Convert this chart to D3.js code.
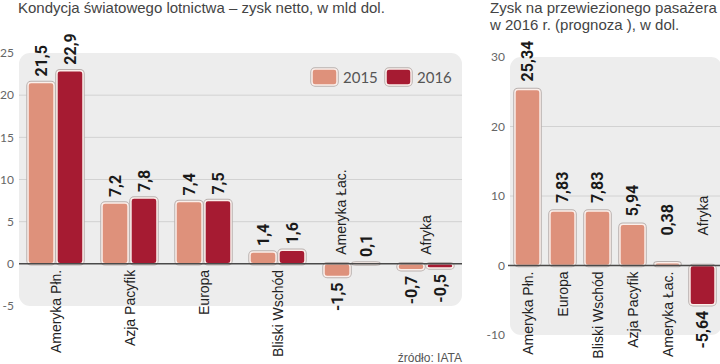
<!DOCTYPE html>
<html>
<head>
<meta charset="utf-8">
<script src="https://cdn.jsdelivr.net/npm/d3@7"></script>
<style>
  body { margin: 0; background: #fff; }
  svg { display: block; }
  .title { font-family: "Liberation Sans Narrow", "Liberation Sans", sans-serif; font-size: 15px; fill: #444; }
  .tick { font-family: Lato, sans-serif; font-size: 12px; fill: #666; }
  .cat { font-family: "Liberation Sans", Arial, sans-serif; font-size: 14px; fill: #222; }
  .val { font-family: Roboto, sans-serif; font-weight: 700; font-size: 16px; fill: #1a1a1a; }
  .legend { font-family: Lato, sans-serif; font-size: 15px; fill: #555; }
  .src { font-family: "Liberation Sans Narrow", sans-serif; font-size: 12px; fill: #555; }
</style>
</head>
<body>
<svg id="chart"></svg>
<script>
var width = 720, height = 364;

// left chart: net profit by region, bln USD
var regions = ["Ameryka Płn.", "Azja Pacyfik", "Europa", "Bliski Wschód", "Ameryka Łac.", "Afryka"];
var years = ["2015", "2016"];
var profit2015 = [21.5, 7.2, 7.4, 1.4, -1.5, -0.7];
var profit2016 = [22.9, 7.8, 7.5, 1.6, 0.1, -0.5];
var leftTicks = [-5, 0, 5, 10, 15, 20, 25];

// right chart: profit per passenger 2016
var paxRegions = ["Ameryka Płn.", "Europa", "Bliski Wschód", "Azja Pacyfik", "Ameryka Łac.", "Afryka"];
var paxProfit = [25.34, 7.83, 7.83, 5.94, 0.38, -5.64];
var rightTicks = [-10, 0, 10, 20, 30];

var colors = {"2015": "#de917b", "2016": "#a61b32"};
var fmt = function (v) { return String(v).replace(".", ","); };

var svg = d3.select("#chart").attr("width", width).attr("height", height);

function drawBar(g, x, y, w, h, color) {
	g.append("rect")
		.attr("x", x).attr("y", y).attr("width", w).attr("height", Math.max(h, 1))
		.attr("rx", 3)
		.attr("fill", "none").attr("stroke", "#b9b1af").attr("stroke-width", 3.5);
	g.append("rect")
		.attr("x", x).attr("y", y).attr("width", w).attr("height", Math.max(h, 1))
		.attr("rx", 3)
		.attr("fill", color).attr("stroke", "#fbefeb").attr("stroke-width", 1.5);
}

// rotated text helper, reads bottom-to-top
function vtext(g, cls, x, y, anchor, txt) {
	g.append("text")
		.attr("class", cls)
		.attr("transform", "translate(" + x + "," + y + ") rotate(-90)")
		.attr("dy", "0.36em")
		.attr("text-anchor", anchor)
		.text(txt);
}

function panel(g, x0, x1, y, ticks, tickX) {
	g.append("rect")
		.attr("x", x0).attr("y", y(ticks[ticks.length - 1]))
		.attr("width", x1 - x0)
		.attr("height", y(ticks[0]) - y(ticks[ticks.length - 1]))
		.attr("rx", 11)
		.attr("fill", "#ededed");
	ticks.forEach(function (t) {
		if (t != 0 && t != ticks[0] && t != ticks[ticks.length - 1]) {
			g.append("line")
				.attr("x1", x0).attr("x2", x1)
				.attr("y1", y(t)).attr("y2", y(t))
				.attr("stroke", "#d2d2d2").attr("stroke-width", 1);
		}
		g.append("text")
			.attr("class", "tick")
			.attr("x", tickX).attr("y", y(t))
			.attr("dy", "0.35em")
			.attr("text-anchor", "end")
			.text(t);
	});
}

/* ---------- left chart ---------- */
var gl = svg.append("g");
var yL = d3.scaleLinear().domain([-5, 25]).range([306, 53]);
var xL = d3.scaleBand().domain(regions).range([19, 462]).paddingInner(0.257).paddingOuter(0.122);
var xSub = d3.scaleBand().domain(years).range([0, xL.bandwidth()]).paddingInner(0.1);

gl.append("text").attr("class", "title").attr("x", 18).attr("y", 13)
	.text("Kondycja światowego lotnictwa – zysk netto, w mld dol.");

panel(gl, 19, 462, yL, leftTicks, 14);

var series = {"2015": profit2015, "2016": profit2016};
regions.forEach(function (r, i) {
	years.forEach(function (yr) {
		var v = series[yr][i];
		var bx = xL(r) + xSub(yr);
		var top = yL(Math.max(v, 0)), bot = yL(Math.min(v, 0));
		drawBar(gl, bx, top, xSub.bandwidth(), bot - top, colors[yr]);
	});
});

gl.append("line")
	.attr("x1", 19).attr("x2", 462)
	.attr("y1", yL(0)).attr("y2", yL(0))
	.attr("stroke", "#4a4a4a").attr("stroke-width", 1.5);

regions.forEach(function (r, i) {
	var a = profit2015[i], b = profit2016[i];
	years.forEach(function (yr) {
		var v = series[yr][i];
		var cx = xL(r) + xSub(yr) + xSub.bandwidth() / 2;
		if (v >= 0) vtext(gl, "val", cx, yL(v) - 6, "start", fmt(v));
		else vtext(gl, "val", cx, yL(v) + 6, "end", fmt(v));
	});
	var cx = xL(r) + xL.bandwidth() / 2;
	if (a >= 0 && b >= 0) {
		vtext(gl, "cat", cx, yL(0) + 6, "end", r);
	} else {
		// label goes above the zero line, over the negative bar
		if (a < 0 && b >= 0) cx = xL(r) + xSub("2015") + xSub.bandwidth() / 2 + 4;
		vtext(gl, "cat", cx, yL(0) - 9, "start", r);
	}
});

// legend
var lg = gl.append("g");
years.forEach(function (yr, i) {
	var lx = 312 + i * 74;
	drawBar(lg, lx, 69, 25, 16, colors[yr]);
	lg.append("text").attr("class", "legend")
		.attr("x", lx + 31).attr("y", 83).text(yr);
});

gl.append("text").attr("class", "src")
	.attr("x", 462).attr("y", 362).attr("text-anchor", "end")
	.text("źródło: IATA");

/* ---------- right chart ---------- */
var gr = svg.append("g");
var yR = d3.scaleLinear().domain([-10, 30]).range([335, 57]);
var xR = d3.scaleBand().domain(paxRegions).range([510, 720]).paddingInner(0.284).paddingOuter(0.142);

gr.append("text").attr("class", "title").attr("x", 490).attr("y", 13)
	.text("Zysk na przewiezionego pasażera");
gr.append("text").attr("class", "title").attr("x", 490).attr("y", 30)
	.text("w 2016 r. (prognoza ), w dol.");

panel(gr, 510, 722, yR, rightTicks, 505);

paxRegions.forEach(function (r, i) {
	var v = paxProfit[i];
	var top = yR(Math.max(v, 0)), bot = yR(Math.min(v, 0));
	drawBar(gr, xR(r), top, xR.bandwidth(), bot - top, v >= 0 ? colors["2015"] : colors["2016"]);
});

gr.append("line")
	.attr("x1", 508).attr("x2", 720)
	.attr("y1", yR(0)).attr("y2", yR(0))
	.attr("stroke", "#4a4a4a").attr("stroke-width", 1.5);

paxRegions.forEach(function (r, i) {
	var v = paxProfit[i];
	var cx = xR(r) + xR.bandwidth() / 2;
	if (v >= 0) {
		vtext(gr, "val", cx, Math.min(yR(v) - 8, yR(0) - 30), "start", fmt(v));
		vtext(gr, "cat", cx, yR(0) + 6, "end", r);
	} else {
		vtext(gr, "val", cx, yR(v) + 6, "end", fmt(v));
		vtext(gr, "cat", cx, yR(0) - 30, "start", r);
	}
});
</script>
</body>
</html>
